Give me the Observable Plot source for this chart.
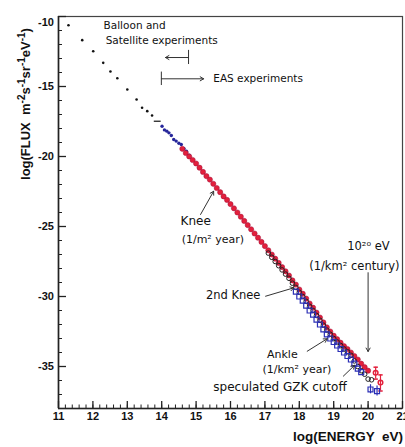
<!DOCTYPE html>
<html><head><meta charset="utf-8">
<script src="https://cdn.jsdelivr.net/npm/d3@7"></script>
<script src="https://cdn.jsdelivr.net/npm/@observablehq/plot@0.6"></script>
<style>body{margin:0;background:#fff} svg{display:block}</style>
</head><body><div id="chart"></div>
<script>
// ---- data (log10 E [eV], log10 flux) ----
const directE = [11.29, 11.69, 12.01, 12.30, 12.51, 12.71, 13.00, 13.27, 13.43, 13.58, 13.72];
const directF = [-10.62, -11.69, -12.48, -13.31, -13.93, -14.41, -15.21, -15.93, -16.52, -16.76, -17.07];
const dashE1 = [13.77], dashE2 = [13.97], dashF = [-17.48];
const lowBlueE = [14.01, 14.08, 14.15, 14.21, 14.28, 14.35, 14.42, 14.50, 14.57, 14.65, 14.72, 14.80];
const lowBlueF = [-17.84, -18.10, -18.19, -18.31, -18.50, -18.79, -18.90, -19.05, -19.14, -19.45, -19.62, -19.90];
const redE = [14.6,14.7,14.8,14.9,15.0,15.1,15.2,15.3,15.4,15.5,15.6,15.7,15.8,15.9,16.0,16.1,16.2,16.3,16.4,16.5,16.6,16.7,16.8,16.9,17.0,17.1,17.2,17.3,17.4,17.5,17.6,17.7,17.8,17.9,18.0,18.1,18.2,18.3,18.4,18.5,18.6,18.7,18.8,18.9,19.0,19.1,19.2,19.3,19.4,19.5,19.6,19.7,19.8,19.9,20.0];
const redF = [-19.45,-19.75,-20.0,-20.25,-20.5,-20.8,-21.1,-21.4,-21.65,-21.95,-22.25,-22.55,-22.85,-23.1,-23.4,-23.7,-24.0,-24.3,-24.6,-24.9,-25.2,-25.5,-25.8,-26.1,-26.4,-26.7,-27.0,-27.3,-27.6,-27.9,-28.2,-28.5,-28.85,-29.15,-29.5,-29.8,-30.15,-30.5,-30.8,-31.15,-31.5,-31.85,-32.2,-32.5,-32.8,-33.05,-33.3,-33.55,-33.75,-34.0,-34.25,-34.5,-34.8,-35.05,-35.3];
const redHiE = [20.22, 20.36], redHiF = [-35.45, -36.15], redHiLo = [-35.9, -36.75], redHiUp = [-35.05, -35.6];
const blackE = [17.1,17.2,17.3,17.4,17.5,17.6,17.7,17.8,17.9,18.0,18.1,18.2,18.3,18.4,18.5,18.6,18.7,18.8,18.9,19.0,19.1,19.2,19.3,19.4,19.5,19.6,19.7,19.8,19.9,20.0,20.1];
const blackF = [-26.9,-27.2,-27.5,-27.8,-28.1,-28.4,-28.7,-29.05,-29.35,-29.7,-30.0,-30.35,-30.7,-31.0,-31.35,-31.7,-32.05,-32.4,-32.7,-33.0,-33.25,-33.5,-33.75,-33.95,-34.2,-34.6,-35.0,-35.3,-35.55,-35.9,-35.95];
const blueSqE = [17.9,18.0,18.1,18.2,18.3,18.4,18.5,18.6,18.7,18.8,18.9,19.0,19.1,19.2,19.3,19.4,19.5,19.6,19.7,19.8];
const blueSqF = [-29.65,-30.0,-30.3,-30.65,-31.0,-31.3,-31.65,-32.0,-32.35,-32.7,-33.0,-33.25,-33.5,-33.75,-34.0,-34.25,-34.5,-34.8,-35.15,-35.4];
const blueHiE = [20.07, 20.26], blueHiF = [-36.64, -36.76], blueHiLo = [-36.95, -37.1], blueHiUp = [-36.3, -36.4];

const xTicks = [11,12,13,14,15,16,17,18,19,20,21];
const yTicks = [-10,-15,-20,-25,-30,-35];
const xMinor = d3.range(11, 21.001, 0.2);
const yMinor = d3.range(-38, -9.999, 1);

// annotations
const topNotes = [
  {x: 12.31, y: -10.64, t: "Balloon and"},
  {x: 12.37, y: -11.71, t: "Satellite experiments"},
  {x: 15.50, y: -14.45, t: "EAS experiments"}
];
const kneeNote = [{x: 14.55, y: -24.64, t: "Knee"}];
const startNotes = [
  {x: 14.58, y: -25.93, t: "(1/m² year)"},
  {x: 17.06, y: -34.14, t: "Ankle"},
  {x: 16.93, y: -35.21, t: "(1/km² year)"}
];
const midNotes = [
  {x: 20.01, y: -26.45, t: "10²⁰ eV"},
  {x: 19.60, y: -27.83, t: "(1/km² century)"}
];
const endNotes = [{x: 16.87, y: -29.93, t: "2nd Knee"}];
const gzkNote = [{x: 15.50, y: -36.50, t: "speculated GZK cutoff"}];
const arrows = [
  {x1: 15.13, y1: -24.14, x2: 15.51, y2: -22.48},
  {x1: 17.02, y1: -29.98, x2: 17.84, y2: -29.38},
  {x1: 18.23, y1: -33.91, x2: 18.81, y2: -33.02},
  {x1: 19.28, y1: -35.69, x2: 19.61, y2: -34.91},
  {x1: 20.00, y1: -28.30, x2: 20.00, y2: -33.93},
  {x1: 14.78, y1: -12.93, x2: 14.11, y2: -12.93},
  {x1: 13.99, y1: -14.45, x2: 15.22, y2: -14.45}
];
const bars = [
  {x: 14.78, y1: -12.42, y2: -13.43},
  {x: 13.99, y1: -13.97, y2: -14.93}
];

// ---- build tables ----
const zip = (a, b) => a.map((v, i) => ({x: v, y: b[i]}));
const direct = zip(directE, directF);
const dash = dashE1.map((v, i) => ({x1: v, x2: dashE2[i], y: dashF[i]}));
const lowBlue = zip(lowBlueE, lowBlueF);
const red = zip(redE, redF);
const redHi = redHiE.map((v, i) => ({x: v, y: redHiF[i], lo: redHiLo[i], up: redHiUp[i]}));
const black = zip(blackE, blackF);
const blueSq = zip(blueSqE, blueSqF);
const blueHi = blueHiE.map((v, i) => ({x: v, y: blueHiF[i], lo: blueHiLo[i], up: blueHiUp[i]}));

const W = 405, H = 447, mL = 58, mR = 3, mT = 16, mB = 39;
const fW = W - mL - mR, fH = H - mT - mB;
const cap = {draw(ctx, size) { const r = Math.sqrt(size / Math.PI); ctx.moveTo(-r, 0); ctx.lineTo(r, 0); }};
const RED = "#e3203c", BLUE = "#2b2fb5";
const annFont = "DejaVu Sans";
const axFont = "Liberation Sans, Arial, sans-serif";

const chart = Plot.plot({
  width: W, height: H, marginLeft: mL, marginRight: mR, marginTop: mT, marginBottom: mB,
  style: {background: "#fff"},
  x: {domain: [11, 21]},
  y: {domain: [-38, -10]},
  marks: [
    Plot.frame({stroke: "#444", strokeWidth: 1.2}),
    Plot.ruleX([11], {stroke: "#222", strokeWidth: 1.6}),
    Plot.ruleY([-38], {stroke: "#222", strokeWidth: 1.6}),
    Plot.ruleX(xMinor, {insetTop: fH - 3.5, stroke: "#222"}),
    Plot.ruleX(xTicks, {insetTop: fH - 7, stroke: "#222", strokeWidth: 1.3}),
    Plot.ruleY(yMinor, {insetRight: fW - 4, stroke: "#222"}),
    Plot.ruleY(yTicks, {insetRight: fW - 8, stroke: "#222", strokeWidth: 1.3}),
    Plot.axisX(xTicks, {tickSize: 0, tickPadding: 4, label: null, tickFormat: d => String(d), fontSize: 11, fontWeight: "bold", fontFamily: axFont, fill: "#111"}),
    Plot.axisY(yTicks.filter(v => v !== -10), {tickSize: 0, tickPadding: 4.5, label: null, tickFormat: d => String(d), fontSize: 11, fontWeight: "bold", fontFamily: axFont, fill: "#111"}),
    Plot.axisY([-10], {tickSize: 0, tickPadding: 4.5, label: null, tickFormat: d => String(d), fontSize: 11, fontWeight: "bold", fontFamily: axFont, fill: "#111", dy: 6}),
    // data
    Plot.dot(direct, {x: "x", y: "y", r: 1.3, fill: "#111"}),
    Plot.link(dash, {x1: "x1", x2: "x2", y1: "y", y2: "y", stroke: "#111", strokeWidth: 1.2}),
    Plot.dot(lowBlue, {x: "x", y: "y", r: 1.7, fill: "#26269a"}),
    Plot.dot(red, {x: "x", y: "y", r: 2.6, fill: RED, stroke: "#a0103a", strokeWidth: 0.5}),
    Plot.ruleX(redHi, {x: "x", y1: "lo", y2: "up", stroke: RED, strokeWidth: 1.2}),
    Plot.dot(redHi, {x: "x", y: "lo", symbol: cap, r: 2.2, stroke: RED}),
    Plot.dot(redHi, {x: "x", y: "up", symbol: cap, r: 2.2, stroke: RED}),
    Plot.dot(redHi, {x: "x", y: "y", r: 2.3, stroke: RED, fill: "none"}),
    Plot.dot(black, {x: "x", y: "y", r: 2.3, stroke: "#222", fill: "none", strokeWidth: 1}),
    Plot.dot(blueSq, {x: "x", y: "y", symbol: "square", r: 2.8, stroke: BLUE, fill: "none", strokeWidth: 1.2}),
    Plot.ruleX(blueHi, {x: "x", y1: "lo", y2: "up", stroke: BLUE, strokeWidth: 1.2}),
    Plot.dot(blueHi, {x: "x", y: "y", symbol: "square", r: 2.8, stroke: BLUE, fill: "none", strokeWidth: 1.2}),
    // annotations
    Plot.arrow(arrows, {x1: "x1", y1: "y1", x2: "x2", y2: "y2", stroke: "#333", strokeWidth: 1, headLength: 6}),
    Plot.ruleX(bars, {x: "x", y1: "y1", y2: "y2", stroke: "#333", strokeWidth: 1}),
    Plot.text(topNotes, {x: "x", y: "y", text: "t", textAnchor: "start", fontSize: 10.5, fontFamily: annFont, fill: "#111"}),
    Plot.text(kneeNote, {x: "x", y: "y", text: "t", textAnchor: "start", fontSize: 12, fontFamily: annFont, fill: "#111"}),
    Plot.text(startNotes, {x: "x", y: "y", text: "t", textAnchor: "start", fontSize: 11, fontFamily: annFont, fill: "#111"}),
    Plot.text(midNotes, {x: "x", y: "y", text: "t", textAnchor: "middle", fontSize: 11.5, fontFamily: annFont, fill: "#111"}),
    Plot.text(endNotes, {x: "x", y: "y", text: "t", textAnchor: "end", fontSize: 11.5, fontFamily: annFont, fill: "#111"}),
    Plot.text(gzkNote, {x: "x", y: "y", text: "t", textAnchor: "start", fontSize: 12, fontFamily: annFont, fill: "#111"})
  ]
});
document.getElementById("chart").appendChild(chart);

// axis titles
const svg = d3.select(chart);
svg.append("text")
  .attr("x", 403).attr("y", 441).attr("text-anchor", "end")
  .attr("font-family", axFont).attr("font-weight", "bold").attr("font-size", 13.5)
  .style("white-space", "pre").attr("fill", "#111")
  .text("log(ENERGY  eV)");
const yl = svg.append("text")
  .attr("transform", "translate(30,104) rotate(-90)").attr("text-anchor", "middle")
  .attr("font-family", axFont).attr("font-weight", "bold").attr("font-size", 13)
  .style("white-space", "pre").attr("fill", "#111");
const parts = [["log(FLUX  m", 0], ["-2", 1], ["s", 0], ["-1", 1], ["sr", 0], ["-1", 1], ["eV", 0], ["-1", 1], [")", 0]];
let up = false;
for (const [t, s] of parts) {
  const ts = yl.append("tspan").text(t);
  if (s && !up) { ts.attr("dy", -5).attr("font-size", 10); up = true; }
  else if (s) { ts.attr("font-size", 10); }
  else if (up) { ts.attr("dy", 5); up = false; }
}
</script>
</body></html>
